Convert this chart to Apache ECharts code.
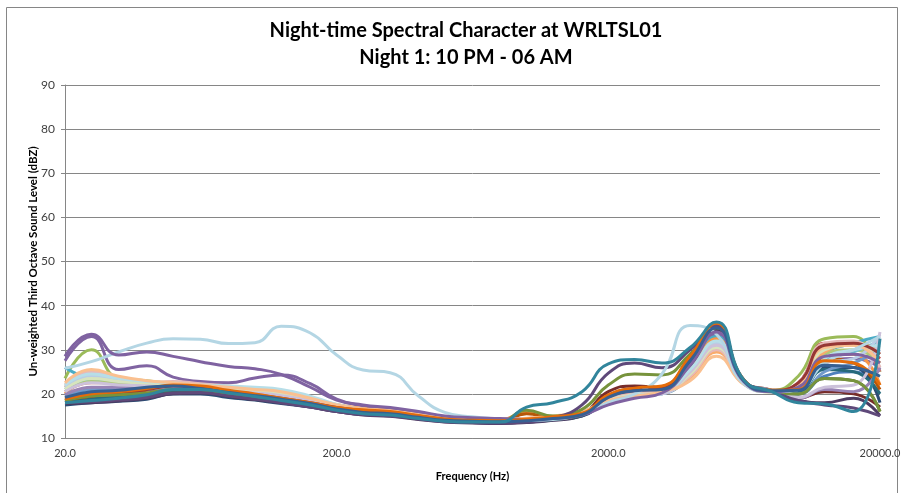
<!DOCTYPE html>
<html>
<head>
<meta charset="utf-8">
<script src="https://cdn.jsdelivr.net/npm/echarts@6/dist/echarts.min.js"></script>
<style>html,body{margin:0;padding:0;background:#fff;}#c{width:908px;height:493px;}</style>
</head>
<body>
<div id="c"></div>
<script>
const bands = [20,25,31.5,40,50,63,80,100,125,160,200,250,315,400,500,630,800,1000,1250,1600,2000,2500,3150,4000,5000,6300,8000,10000,12500,16000,20000];
const xTickLabels = [20,200,2000,20000];
const yTicks = [10,20,30,40,50,60,70,80,90];

const t2200 = [18.5,19,19.2,19.5,20.5,20.3,19.6,19.2,18.5,17.5,16.3,15.6,15.4,14.6,14,13.8,13.7,13.9,14.4,15.2,18.5,20,20.5,26.5,33.5,22.8,20.6,20,24,25,22];
const t2215 = [19,20,21,21.8,22.5,21.8,21,20.2,19.3,18.2,16.8,16,15.6,14.8,14.1,13.9,13.8,14,14.5,15.4,19,20.8,21.3,27.5,34.5,23,20.7,22.5,31.5,31,28];
const t2230 = [23.5,30,23.5,23,22.3,22,21.5,20.8,20,18.8,17,16.2,15.8,15,14.3,14,13.9,14.1,14.6,15.5,18.6,20,20.6,26,33.5,22.8,20.8,24,32.5,33,25];
const t2245 = [27.5,33,25.5,26.4,23.8,22.8,22.5,23.6,24.3,22.3,18.8,17.3,16.6,15.8,14.8,14.4,14.2,14.4,14.8,15.6,18.6,20,20.5,26,33.5,22.8,20.6,21,27,28,26];
const t2300 = [26,23.5,23,22.5,22.3,22,21.6,21,20.2,19,17.2,16.2,15.8,15,14.3,14,13.9,14.1,14.6,15.5,18.4,19.8,20.5,26,33,22.8,20.6,21.5,29,31.5,33];
const t2315 = [20,23,22,21.5,21.5,21.2,20.8,20.5,19.8,18.8,17.5,16.6,16,15.2,14.5,14.2,14.1,15.8,14.8,15.5,18.8,20.2,20.8,25.5,32.5,22.6,20.6,21,28,29,22];
const t2330 = [17.5,18,18.3,18.8,20,20,19.2,18.6,17.8,17,16,15.3,15.1,14.4,13.8,13.5,13.4,13.6,14.1,15,18.2,19.7,20.3,27,35,23,20.6,20.5,26,26,18];
const t2345 = [18,18.5,19,20,20.3,20.5,19.5,18.8,18.4,17.5,16.8,16.2,15.8,14.8,14,13.8,13.6,13.8,14.3,15.5,20.5,21.8,21.5,28,35.5,23,20.8,19,20.5,20,17];
const t0000 = [18.2,18.8,19.2,19.8,20.5,20.6,19.8,19,18.2,17.3,16.4,15.6,15.3,14.5,13.9,13.7,13.5,13.7,14.2,15.2,19.5,21,21.2,27.5,35,23,20.7,20,23.5,23,16];
const t0015 = [17.8,18,18.4,19,20,20.2,19.5,18.7,18,17,16,15.2,14.9,14.2,13.6,13.4,13.3,13.5,14,15,18.5,20,20.6,26.5,34.5,23,20.6,18.5,18,19,15];
const t0030 = [18,18.8,19.3,19.8,20.8,20.8,19.9,19.2,18.4,17.3,16.2,15.5,15.2,14.5,13.9,13.6,13.5,13.7,14.2,15.1,18.8,20.4,20.9,27,35,23,20.6,20.5,25.5,25,20];
const t0045 = [18.5,19.5,20,20.8,21.5,21.5,20.5,19.7,18.8,17.8,16.8,16.3,15.9,15,14.2,13.9,13.8,15.5,14.5,15.3,19.6,21.2,21.5,28.5,35.5,23.2,20.7,21.5,28,27,21];
const t0100 = [19.5,21,21.2,21,21.5,21.2,20.6,20,19.2,18,16.7,15.9,15.6,14.8,14.2,13.9,13.8,14,14.5,15.3,18,19.4,20,24,30.5,22.4,20.5,20,25,27,30];
const t0115 = [20.5,22.5,22.5,22.3,22,21.8,21.3,20.8,20,18.8,17.3,16.3,15.9,15.1,14.4,14.1,14,14.2,14.7,15.6,18.7,20.1,20.7,25,31.5,22.6,20.7,22,30,31.5,25];
const t0130 = [21.5,23,22.5,22,21.8,21.3,20.9,20.4,19.8,18.6,17.1,16.2,15.8,15,14.3,14,13.9,14.1,14.6,15.5,18.3,19.6,20.2,24,30,22.3,20.5,21.5,29,30,27];
const t0145 = [19.8,21.5,21.5,21.3,21.3,21,20.5,20,19.3,18.2,16.9,16,15.7,14.9,14.2,14,13.9,14.1,14.6,15.5,18.2,19.5,20.1,25,31.5,22.5,20.6,19,21,20.5,26];
const t0200 = [21,23.5,23,22.3,22,21.6,21.2,20.7,20,18.8,17.2,16.3,15.9,15.1,14.4,14.1,14,14.2,14.7,15.6,18.2,19.5,20,24.5,31,22.4,20.5,21,27.5,29.5,32];
const t0215 = [21.5,24.5,23,22.5,22.3,21.8,21.3,21,20.3,19,17.6,16.7,16.2,15.3,14.6,14.3,14.2,14.4,14.9,15.8,18.5,19.6,20.2,23.5,29.5,22.3,20.6,21.5,29.5,31,30.5];
const t0230 = [21.5,24,23.2,22.5,22,21.5,21.2,20.8,20.2,19,17.3,16.2,15.9,15,14.3,14,13.9,14.1,14.6,15.4,18,19.3,20,24.5,31.5,22.4,20.5,21,27,28,33.5];
const t0245 = [22,25,23.5,22.5,22.8,22.3,21.8,21.2,20.6,19.2,17.4,16.4,16,15.2,14.5,14.2,14.1,14.3,14.8,15.8,18.8,20,20.5,24,30,22.3,20.6,22.5,31.5,32,26];
const t0300 = [21,23.5,22.8,22.3,22,21.5,21,20.6,20,18.8,17.2,16.3,15.8,15,14.3,14.1,14,14.2,14.7,15.7,18.5,19.8,20.2,24.5,30.5,22.5,20.5,22,30,31,29];
const t0315 = [20.5,22.5,22,21.8,21.5,21,20.6,20.2,19.6,18.5,17,16.1,15.7,14.9,14.2,14,13.9,14.1,14.6,15.5,18.2,19.5,20,25,31,22.5,20.8,19.2,21.5,22,34];
const t0330 = [22,24.5,23.5,22.8,22.5,22,21.8,21.5,21,19.5,17.6,16.5,16,15.2,14.4,14.1,14,14.2,14.7,15.6,18.3,19.6,20.3,25.5,32,22.6,20.6,21.2,28,30,31];
const t0345 = [22.5,25.5,24,23,22.5,22,21.5,21,20.5,19,17.5,16.5,16.2,15.3,14.6,14.3,14.2,14.5,15,16,18.5,19.5,20.5,23,28.5,22.2,20.5,22,30.5,31,27];
const t0400 = [18.8,19.5,20.2,21,21.8,21.5,20.5,19.8,19,18,16.9,16.2,15.8,15,14.2,13.9,13.8,14,14.5,15.4,19.3,21,21.3,28,35.5,23.1,20.8,22.5,31,31.5,29];
const t0415 = [18.5,19.5,19.8,20.2,21,20.8,20,19.3,18.5,17.5,16.3,15.6,15.3,14.6,14,13.8,13.8,16.3,15,16.5,22,24.5,24.3,29,35,23,20.7,20,23.5,23,16];
const t0430 = [18,18.2,18.6,19.2,20.2,20.3,19.5,18.8,18,17,16,15.3,15,14.3,13.7,13.5,13.4,13.6,14.5,17.5,24.7,27,25.9,30,35.5,23,20.6,18.5,17.5,16.8,15];
const t0445 = [25.8,27.3,29.5,31.5,32.5,32.4,31.4,31.6,35.3,33.8,28.8,25.4,24.8,19.5,15.8,14.8,14.3,14,14.2,15.5,18,20,24.5,35.5,33.5,22.3,20.5,21,27,30,33];
const t0500 = [28.5,33.5,28.8,29.5,28.5,27.3,26.2,25.7,24.4,21.5,18.6,17.5,16.9,16,15,14.6,14.4,14.2,14.4,15.2,17.5,19,20.2,26.5,34,22.8,20.5,21.5,28.5,29,27];
const t0515 = [18.8,20,20.5,21.2,22,21.8,20.8,20,19,18,16.9,16.4,16,15.1,14.3,14,13.9,14.3,14.8,15.6,19.8,21.3,21.8,28.5,36,23.2,20.8,21,27.5,27,22];
const t0530 = [19.2,20.5,20.8,21.5,21.8,21.2,20.3,19.6,18.8,17.8,16.6,15.8,15.5,14.7,14,13.8,13.7,13.9,14.4,15.3,19.2,20.7,21,27.5,35,23,20.7,20.8,26.5,26,24];
const t0545 = [18,18.5,19,19.8,21,21,20.2,19.4,18.5,17.5,16.3,15.5,15.2,14.4,13.8,13.6,13.6,17,18,20.5,26.8,27.8,27,30.5,36.3,23.2,20.5,18,17.7,16,32.5];

const seriesNames = ['22:00','22:15','22:30','22:45','23:00','23:15','23:30','23:45','00:00','00:15','00:30','00:45','01:00','01:15','01:30','01:45','02:00','02:15','02:30','02:45','03:00','03:15','03:30','03:45','04:00','04:15','04:30','04:45','05:00','05:15','05:30','05:45'];
const seriesValues = [t2200,t2215,t2230,t2245,t2300,t2315,t2330,t2345,t0000,t0015,t0030,t0045,t0100,t0115,t0130,t0145,t0200,t0215,t0230,t0245,t0300,t0315,t0330,t0345,t0400,t0415,t0430,t0445,t0500,t0515,t0530,t0545];
const colors = ['#4F81BD','#C0504D','#9BBB59','#8064A2','#4BACC6','#F79646','#2C4D75','#772C2A','#5F7530','#4D3B62','#276A7C','#B65708','#729ACA','#CD7371','#AFC97A','#9983B5','#6FBDD1','#F9AB6B','#B9CDE5','#E6B9B8','#D7E4BD','#CCC1DA','#B7DEE8','#FAC090','#953735','#77933C','#5F497A','#B4D6E4','#7F62A1','#E46C0A','#376092','#31859C'];

const chart = echarts.init(document.getElementById('c'), null, {renderer:'canvas'});
const FONT = 'Lato, "Open Sans", sans-serif';
chart.setOption({
  animation: false,
  backgroundColor: '#fff',
  color: colors,
  title: {
    text: 'Night-time Spectral Character at WRLTSL01\nNight 1: 10 PM - 06 AM',
    left: 461, top: 12, textAlign: 'center',
    textStyle: {fontFamily: FONT, fontWeight: 'bold', fontSize: 20, lineHeight: 27, color: '#000'}
  },
  graphic: [{type:'rect', shape:{x:6.5, y:7.5, width:891, height:500}, style:{fill:'none', stroke:'#868686', lineWidth:1}, silent:true, z:-1}],
  grid: {left: 65, right: 28, top: 85, bottom: 55, containLabel: false},
  xAxis: {
    type: 'log', logBase: 10, min: 20, max: 20000,
    name: 'Frequency (Hz)', nameLocation: 'middle', nameGap: 33,
    nameTextStyle: {fontFamily: FONT, fontWeight: 'bold', fontSize: 11, color: '#000'},
    axisLine: {show: true, lineStyle: {color: '#868686', width: 1}},
    axisTick: {show: false},
    splitLine: {show: false},
    minorTick: {show: false}, minorSplitLine: {show: false},
    axisLabel: {customValues: xTickLabels, formatter: v => Number(v).toFixed(1), fontFamily: FONT, fontSize: 11, color: '#404040', margin: 10}
  },
  yAxis: {
    type: 'value', min: 10, max: 90, interval: 10,
    name: 'Un-weighted Third Octave Sound Level (dBZ)', nameLocation: 'middle', nameGap: 32, nameRotate: 90,
    nameMoveOverlap: false,
    nameTextStyle: {fontFamily: FONT, fontWeight: 'bold', fontSize: 11.5, color: '#000', verticalAlign: 'middle'},
    axisLine: {show: true, lineStyle: {color: '#868686', width: 1}},
    axisTick: {show: true, length: 4, lineStyle: {color: '#868686'}},
    splitLine: {show: true, lineStyle: {color: '#868686', width: 1}},
    axisLabel: {fontFamily: FONT, fontSize: 12, color: '#404040', margin: 10}
  },
  series: seriesValues.map((vals, i) => ({
    name: seriesNames[i],
    type: 'line',
    smooth: 0.5,
    symbol: 'none',
    lineStyle: {width: 3, color: colors[i]},
    itemStyle: {color: colors[i]},
    data: bands.map((f, j) => [f, vals[j]]),
    z: 2
  }))
});
</script>
</body>
</html>
